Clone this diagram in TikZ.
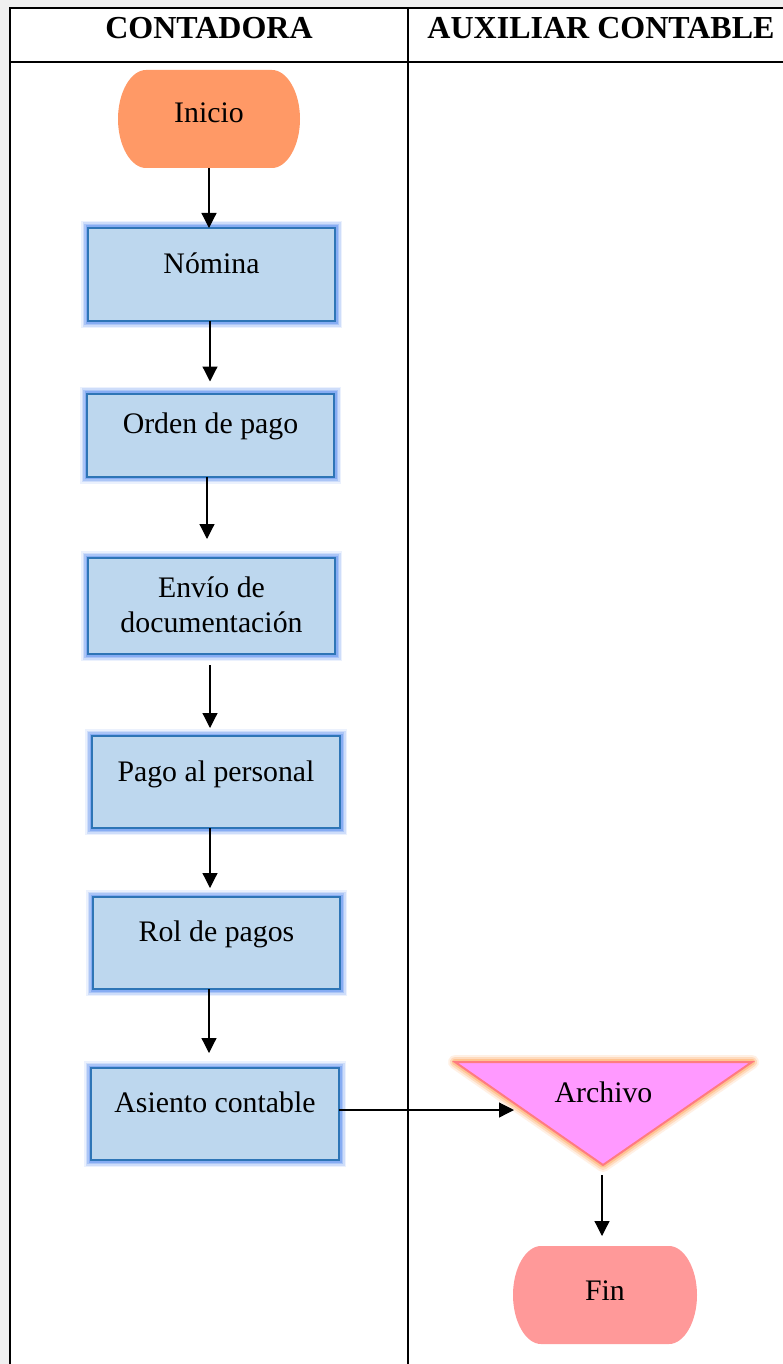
\documentclass[tikz,border=0pt]{standalone}
\usepackage{fontspec}
\setmainfont{Liberation Serif}
\usetikzlibrary{arrows.meta,calc}
\definecolor{bggray}{HTML}{F0F0F0}
\definecolor{boxfill}{HTML}{BDD7EE}
\definecolor{boxline}{HTML}{2E75B6}
\definecolor{boxglow}{HTML}{5B8FF0}
\definecolor{inicol}{HTML}{FF9966}
\definecolor{fincol}{HTML}{FF9999}
\definecolor{trifill}{HTML}{FF99FF}
\definecolor{triline}{HTML}{FF7C80}
\definecolor{triglow}{HTML}{FFA050}
\newcommand\stadiumfill[2]{%
  \fill[#2] ($(#1.north west)+(28,0)$) -- ($(#1.north east)+(-28,0)$)
    .. controls ($(#1.north east)+(-13,0)$) and ($(#1.east)+(0,-27)$) .. (#1.east)
    .. controls ($(#1.east)+(0,27)$) and ($(#1.south east)+(-13,0)$) .. ($(#1.south east)+(-28,0)$)
    -- ($(#1.south west)+(28,0)$)
    .. controls ($(#1.south west)+(13,0)$) and ($(#1.west)+(0,27)$) .. (#1.west)
    .. controls ($(#1.west)+(0,-27)$) and ($(#1.north west)+(13,0)$) .. ($(#1.north west)+(28,0)$) -- cycle;}
\tikzset{
  procbox/.style={rectangle, fill=boxfill, draw=boxline, line width=2pt,
    minimum width=247pt, minimum height=93pt, inner sep=0pt, outer sep=0pt,
    preaction={draw=boxglow, line width=14pt, opacity=0.12},
    preaction={draw=boxglow, line width=11pt, opacity=0.2},
    preaction={draw=boxglow, line width=8pt, opacity=0.3},
    preaction={draw=boxglow, line width=5pt, opacity=0.45}},
  termnode/.style={rectangle, minimum width=182pt, minimum height=98pt, inner sep=0pt, outer sep=0pt},
  lbl/.style={font=\fontsize{29.8}{35}\selectfont, align=center, inner sep=0pt, anchor=base},
  hdr/.style={font=\fontsize{32}{36}\selectfont\bfseries, inner sep=0pt, anchor=base},
  arr/.style={-{Triangle[length=15pt,width=15pt]}, line width=1.2pt},
  tline/.style={line width=2pt},
}
\begin{document}
\begin{tikzpicture}[x=1pt, y=-1pt]
\useasboundingbox (0,0) rectangle (783,1364);
% background and table
\fill[bggray] (0,0) rectangle (783,1364);
\fill[white] (10,8) rectangle (790,1370);
\draw[tline] (10,1370) -- (10,8) -- (790,8);
\draw[tline] (10,62) -- (790,62);
\draw[tline] (408,8) -- (408,1370);
\node[hdr] (h1) at (209,39) {CONTADORA};
\node[hdr] (h2) at (601,39) {AUXILIAR CONTABLE};

% Inicio
\node[termnode] (ini) at (209,119) {};
\stadiumfill{ini}{inicol}
\node[lbl] (tini) at ($(ini)+(0,4)$) {Inicio};

% process boxes
\node[procbox] (n1) at (211.5,274.5) {};
\node[lbl] (t1) at ($(n1)+(0,-1.5)$) {Nómina};
\node[procbox, minimum height=83pt] (n2) at (210.5,435) {};
\node[lbl] (t2) at ($(n2)+(0,-1.5)$) {Orden de pago};
\node[procbox, minimum height=96pt] (n3) at (211.5,606) {};
\node[lbl] (t3) at (211.5,597.3) {Envío de};
\node[lbl] (t3b) at (211.5,632.3) {documentación};
\node[procbox, minimum width=248pt, minimum height=92pt] (n4) at (216,782) {};
\node[lbl] (t4) at ($(n4)+(0,-1)$) {Pago al personal};
\node[procbox, minimum height=92pt] (n5) at (216.5,943) {};
\node[lbl] (t5) at ($(n5)+(0,-1.5)$) {Rol de pagos};
\node[procbox, minimum width=248pt, minimum height=92pt] (n6) at (215,1114) {};
\node[lbl] (t6) at ($(n6)+(0,-1.5)$) {Asiento contable};

% Archivo triangle
\path[fill=trifill, draw=triline, line width=2pt, line join=miter,
  preaction={draw=triglow, line width=14pt, opacity=0.15, line join=round},
  preaction={draw=triglow, line width=10pt, opacity=0.25, line join=round},
  preaction={draw=triglow, line width=6pt, opacity=0.4, line join=round}]
  (455,1062) -- (752,1062) -- (603,1165) -- cycle;
\node[lbl] (tarch) at (603.5,1102.7) {Archivo};
\coordinate (archin) at (514,1110);
\coordinate (archout) at (602,1175);

% Fin
\node[termnode, minimum width=184pt] (fin) at (605,1295) {};
\stadiumfill{fin}{fincol}
\node[lbl] (tfin) at ($(fin)+(0,5)$) {Fin};

% connectors
\draw[arr] (ini.south) -- (ini.south |- n1.north);
\draw[arr, shorten >=12pt] ([xshift=-1.5pt]n1.south) -- ([xshift=-1.5pt]n1.south |- n2.north);
\draw[arr, shorten >=19pt] ([xshift=-3.5pt]n2.south) -- ([xshift=-3.5pt]n2.south |- n3.north);
\draw[arr, shorten <=11pt, shorten >=8pt] ([xshift=-1.5pt]n3.south) -- ([xshift=-1.5pt]n3.south |- n4.north);
\draw[arr, shorten >=9pt] ([xshift=-6pt]n4.south) -- ([xshift=-6pt]n4.south |- n5.north);
\draw[arr, shorten >=15pt] ([xshift=-7.5pt]n5.south) -- ([xshift=-7.5pt]n5.south |- n6.north);
\draw[arr] (n6.east |- archin) -- (archin);
\draw[arr, shorten >=10pt] (archout) -- (archout |- fin.north);
\end{tikzpicture}
\end{document}
